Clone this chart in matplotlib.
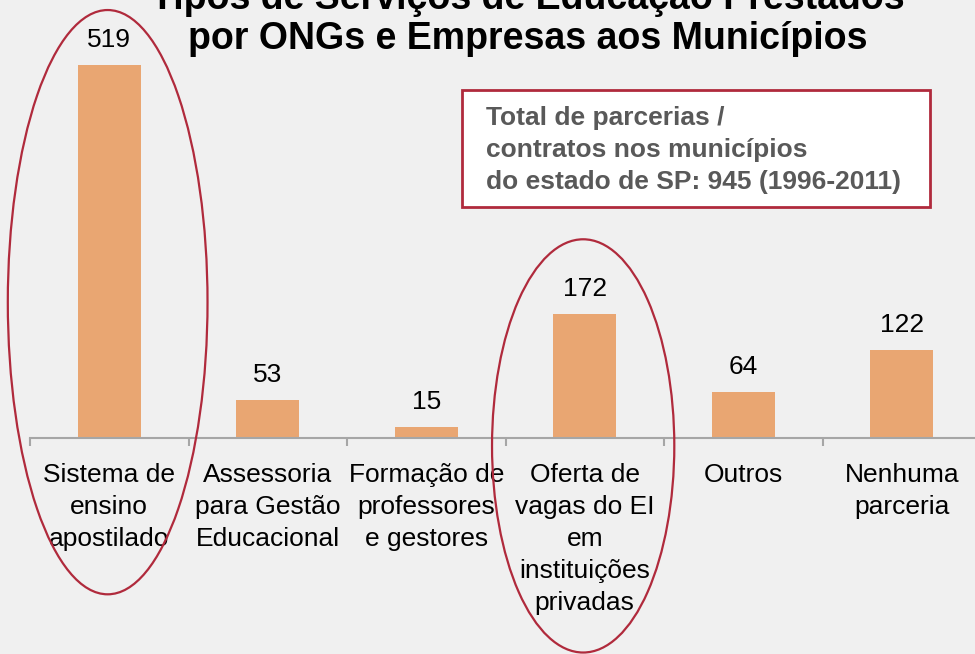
import matplotlib.pyplot as plt
from matplotlib.patches import Ellipse, Rectangle
import numpy as np

plt.rcParams['font.family'] = ['Liberation Sans', 'DejaVu Sans']

# dados
categorias = ['Sistema de\nensino\napostilado', 'Assessoria\npara Gestão\nEducacional',
              'Formação de\nprofessores\ne gestores',
              'Oferta de\nvagas do EI\nem\ninstituições\nprivadas',
              'Outros', 'Nenhuma\nparceria']
valores = [519, 53, 15, 172, 64, 122]
destaques = [0, 3]

fundo = '#f0f0f0'
cor_barra = '#e9a672'
vermelho = '#b02a3c'

fig = plt.figure(figsize=(9.75, 6.54), dpi=100, facecolor=fundo)
ax = fig.add_axes([30/975, 216/654, 951/975, 431.2/654])
ax.set_facecolor(fundo)

x = np.arange(len(valores))
ax.bar(x, valores, width=0.4, color=cor_barra)
for xi, v in zip(x, valores):
    ax.text(xi, v + 18, str(v), ha='center', va='bottom', fontsize=19, color='black')

ax.set_xlim(-0.5, 5.5)
ax.set_ylim(0, 600)
ax.set_yticks([])
for s in ['top', 'right', 'left']:
    ax.spines[s].set_visible(False)
ax.spines['bottom'].set_color('#a6a6a6')
ax.spines['bottom'].set_linewidth(1.5)

# ticks nas fronteiras, rótulos no centro
ax.set_xticks(np.arange(-0.5, 6, 1))
ax.set_xticklabels([])
ax.tick_params(axis='x', which='major', length=6, width=1.5, color='#a6a6a6')
ax.set_xticks(x, minor=True)
ax.set_xticklabels(categorias, minor=True, fontsize=19, linespacing=1.42, va='top')
ax.tick_params(axis='x', which='minor', length=0, pad=18)

# elipses de destaque
elipses = {0: (189, 1.26, 813), 3: (-11, 1.15, 575)}
for i in destaques:
    cy, w, h = elipses[i]
    ax.add_patch(Ellipse((x[i] - 0.01, cy), w, h, fill=False, edgecolor=vermelho,
                         linewidth=1.6, clip_on=False, zorder=5))

# titulo (primeira linha cortada no topo, como no original)
fig.text(528/975, 1 - 19/654, 'Tipos de Serviços de Educação Prestados\npor ONGs e Empresas aos Municípios',
         ha='center', va='center', fontsize=27, fontweight='bold', linespacing=1.12)

# caixa de texto
fig.patches.append(Rectangle((462/975, 1 - 207/654), 468/975, 117/654, transform=fig.transFigure,
                             facecolor='white', edgecolor=vermelho, linewidth=2))
fig.text(486/975, 1 - 150/654, 'Total de parcerias /\ncontratos nos municípios\ndo estado de SP: 945 (1996-2011)',
         ha='left', va='center', fontsize=19, fontweight='bold', color='#595959', linespacing=1.4)

fig.savefig('out.png', dpi=100, facecolor=fundo)
